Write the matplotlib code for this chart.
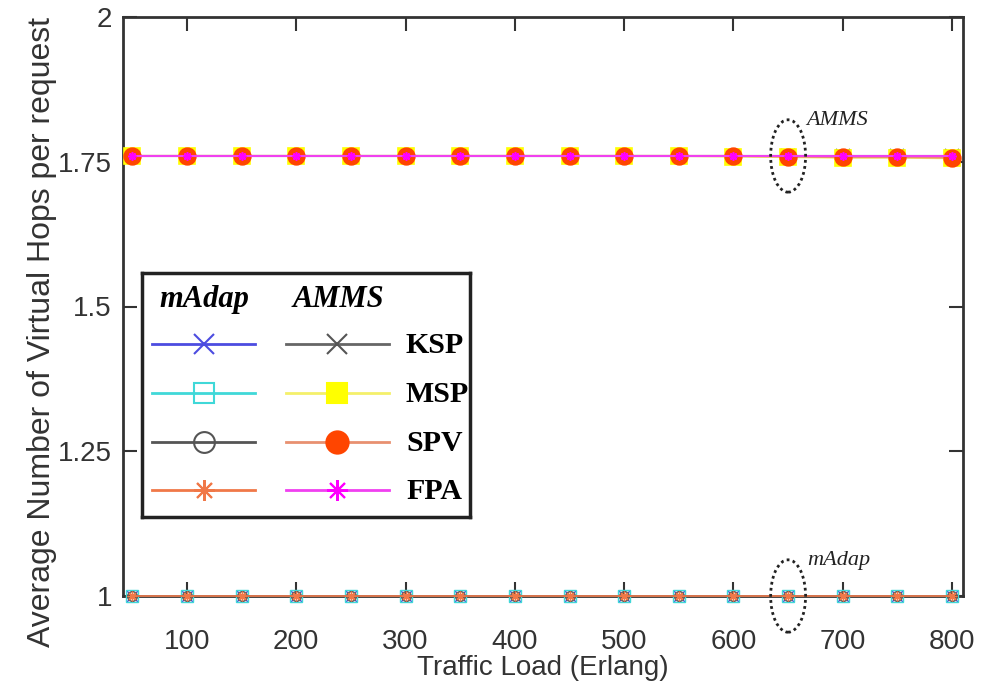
import matplotlib.pyplot as plt
from matplotlib.patches import Ellipse

load = [50, 100, 150, 200, 250, 300, 350, 400, 450, 500, 550, 600, 650, 700, 750, 800]

madap_ksp = [1.0] * 16
madap_msp = [1.0] * 16
madap_spv = [1.0] * 16
madap_fpa = [1.0] * 16

amms_ksp = [1.76] * 16
amms_msp = [1.76, 1.76, 1.76, 1.76, 1.76, 1.76, 1.76, 1.76, 1.76, 1.76, 1.76, 1.759, 1.758, 1.757, 1.757, 1.756]
amms_spv = [1.76, 1.76, 1.76, 1.76, 1.76, 1.76, 1.76, 1.76, 1.76, 1.76, 1.76, 1.76, 1.759, 1.758, 1.758, 1.757]
amms_fpa = [1.76] * 16

names = ["KSP", "MSP", "SPV", "FPA"]
yticks = [1, 1.25, 1.5, 1.75, 2]
ytick_labels = ["1", "1.25", "1.5", "1.75", "2"]
xticks = [100, 200, 300, 400, 500, 600, 700, 800]

ast = (8, 2, 0)
# (line colour, marker, facecolor, edgecolor)
madap_style = [
    ("#4c4ce0", "x", "none", "#4c4ce0"),
    ("#40d8d8", "s", "none", "#40d8d8"),
    ("#555555", "o", "none", "#555555"),
    ("#f07848", ast, "none", "#f07848"),
]
amms_style = [
    ("#666666", "x", "none", "#555555"),
    ("#f4f06a", "s", "#ffff00", "#ffff00"),
    ("#e89070", "o", "#ff4500", "#ff4500"),
    ("#f040f0", ast, "none", "#ff00ff"),
]

plt.rcParams["font.family"] = ["Liberation Sans", "DejaVu Sans"]
fig = plt.figure(figsize=(9.91, 6.87), dpi=100)
ax = fig.add_axes([123 / 991, 91 / 687, 840 / 991, 579 / 687])

msizes = [8, 8, 7, 7]
for ys, (c, m, fc, ec), s in zip([madap_ksp, madap_msp, madap_spv, madap_fpa], madap_style, msizes):
    ax.plot(load, ys, color=c, lw=1.2, marker=m, ms=s, mfc=fc, mec=ec, mew=1.0, clip_on=False, zorder=3)

sizes = [10, 12, 12, 6]
for ys, (c, m, fc, ec), s in zip([amms_ksp, amms_msp, amms_spv, amms_fpa], amms_style, sizes):
    ax.plot(load, ys, color=c, lw=1.5, marker=m, ms=s, mfc=fc, mec=ec, mew=1.2, zorder=4)

ax.set_xlim(41.5, 810)
ax.set_ylim(1, 2)
ax.set_xticks(xticks)
ax.set_yticks(yticks)
ax.set_yticklabels(ytick_labels)
ax.tick_params(direction="in", length=10, width=1.5, top=True, right=True, labelsize=20, colors="#333333",
               pad=8)
ax.tick_params(axis="x", pad=24)
for sp in ax.spines.values():
    sp.set_linewidth(2)
    sp.set_color("#333333")
ax.set_xlabel("Traffic Load (Erlang)", fontsize=20, color="#333333", labelpad=0)
ax.set_ylabel("Average Number of Virtual Hops per request", fontsize=23, color="#333333")
ax.yaxis.set_label_coords(-0.079, 0.456)

# dotted ellipses with labels
for yc, lab in [(1.76, "AMMS"), (1.0, "mAdap")]:
    ax.add_patch(Ellipse((650, yc), 32, 0.125, fill=False, ls=(0, (1, 1.2)), lw=2, ec="#222222",
                         clip_on=False, zorder=6))
    ax.text(667, yc + 0.045, lab, fontsize=16, style="italic", family="Liberation Serif", color="#222222",
            va="bottom", ha="left", zorder=6)

# legend box drawn in pixel coordinates
lg = fig.add_axes([142 / 991, 170 / 687, 328 / 991, 244 / 687])
lg.set_xlim(142, 470)
lg.set_ylim(517, 273)
lg.set_xticks([])
lg.set_yticks([])
for sp in lg.spines.values():
    sp.set_linewidth(2.5)
    sp.set_color("#222222")
lg.set_zorder(10)
lg.text(204, 300, "mAdap", fontsize=22, family="Liberation Serif", weight="bold", style="italic",
        ha="center", va="center")
lg.text(338, 300, "AMMS", fontsize=22, family="Liberation Serif", weight="bold", style="italic",
        ha="center", va="center")
rows = [344, 393, 442, 490]
for i, (name, yr) in enumerate(zip(names, rows)):
    c, m, fc, ec = madap_style[i]
    lg.plot([152, 255], [yr, yr], color=c, lw=2)
    lg.plot([204], [yr], marker=m, ms=15, mfc=fc, mec=ec, mew=1.5, ls="none")
    c, m, fc, ec = amms_style[i]
    lg.plot([286, 389], [yr, yr], color=c, lw=2)
    lg.plot([337], [yr], marker=m, ms=15 if m != "o" else 16, mfc=fc, mec=ec, mew=1.5, ls="none")
    lg.text(406, yr + 2, name, fontsize=21.5, family="Liberation Serif", weight="bold", ha="left", va="center")

fig.savefig("out.png", dpi=100)
